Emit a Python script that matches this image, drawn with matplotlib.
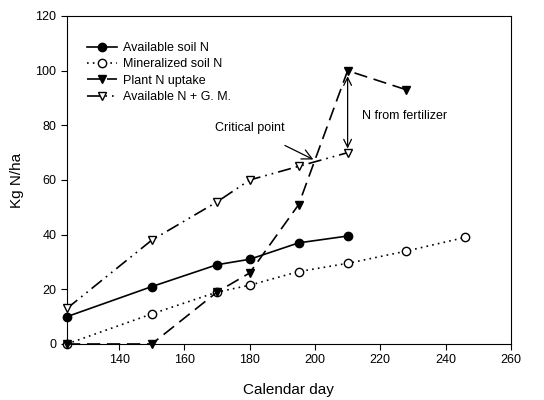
import matplotlib
matplotlib.use("Agg")
import matplotlib.pyplot as plt

plt.rcParams['font.family'] = ['Liberation Sans', 'DejaVu Sans']

# Data
avail_x = [124, 150, 170, 180, 195, 210]
avail_y = [10, 21, 29, 31, 37, 39.5]

miner_x = [124, 150, 170, 180, 195, 210, 228, 246]
miner_y = [0, 11, 19, 21.5, 26.5, 29.5, 34, 39]

uptake_x = [124, 150, 170, 180, 195, 210, 228]
uptake_y = [0, 0, 19, 26, 51, 100, 93]

gm_x = [124, 150, 170, 180, 195, 210]
gm_y = [13, 38, 52, 60, 65, 70]

fig = plt.figure(figsize=(5.44, 4.0), dpi=100)
ax = fig.add_axes([0.123, 0.14, 0.816, 0.82])

ax.plot(avail_x, avail_y, color='black', lw=1.2, ls='-', marker='o', ms=6,
        mfc='black', label='Available soil N', zorder=3, clip_on=False)
ax.plot(miner_x, miner_y, color='black', lw=1.2, ls=(0, (1, 2.5)), marker='o', ms=6,
        mfc='white', label='Mineralized soil N', zorder=3, clip_on=False)
ax.plot(uptake_x, uptake_y, color='black', lw=1.2, ls=(0, (8, 4)), marker='v', ms=6,
        mfc='black', label='Plant N uptake', zorder=4, clip_on=False)
ax.plot(gm_x, gm_y, color='black', lw=1.2, ls=(0, (8, 3, 1, 3, 1, 3)), marker='v', ms=6,
        mfc='white', label='Available N + G. M.', zorder=3, clip_on=False)

# annotations
ax.annotate('', xy=(210, 70.5), xytext=(210, 99),
            arrowprops=dict(arrowstyle='<->', color='black', lw=0.9,
                            mutation_scale=14))
ax.text(214.5, 83.5, 'N from fertilizer', fontsize=9, ha='left', va='center')
ax.annotate('Critical point', xy=(199.5, 67.5), xytext=(180, 79),
            fontsize=9, ha='center', va='center',
            arrowprops=dict(arrowstyle='->', color='black', lw=0.9,
                            mutation_scale=18, shrinkA=14, shrinkB=0))

ax.set_xlim(124, 260)
ax.set_ylim(0, 120)
ax.set_xticks([140, 160, 180, 200, 220, 240, 260])
ax.set_yticks([0, 20, 40, 60, 80, 100, 120])
ax.tick_params(direction='out', length=4, labelsize=9)
ax.set_xlabel('Calendar day', fontsize=11, labelpad=12)
ax.set_ylabel('Kg N/ha', fontsize=11, labelpad=8)

ax.legend(loc='upper left', frameon=False, fontsize=9, bbox_to_anchor=(0.02, 0.955),
          handlelength=2.4, handletextpad=0.5, labelspacing=0.35)

fig.savefig('out.png', dpi=100)
